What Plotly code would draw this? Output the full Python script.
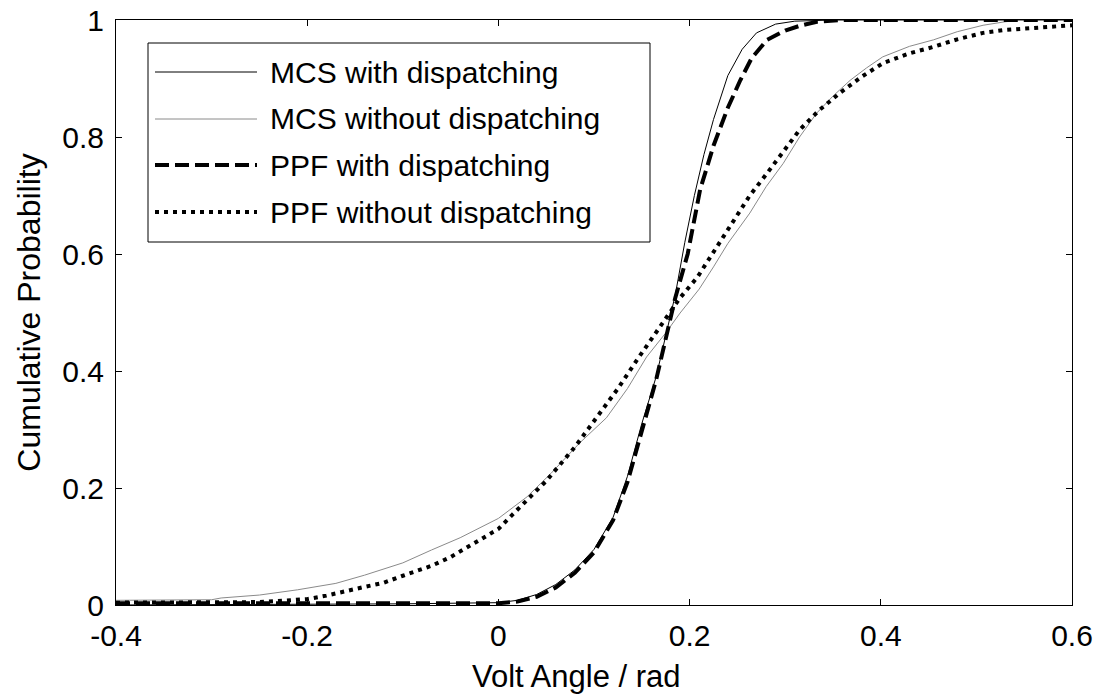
import plotly.graph_objects as go

# ---- data ----
mcs_disp_x = [-0.4, -0.1, 0.0, 0.02, 0.04, 0.06, 0.08, 0.10, 0.12, 0.135, 0.15, 0.165, 0.175,
              0.185, 0.195, 0.205, 0.215, 0.225, 0.24, 0.255, 0.27, 0.29, 0.31, 0.35, 0.6]
mcs_disp_y = [0.0, 0.002, 0.004, 0.008, 0.018, 0.035, 0.06, 0.095, 0.15, 0.22, 0.31, 0.39, 0.46,
              0.53, 0.62, 0.70, 0.77, 0.83, 0.905, 0.95, 0.978, 0.993, 0.998, 1.0, 1.0]

mcs_nodisp_x = [-0.4, -0.3, -0.29, -0.25, -0.21, -0.17, -0.14, -0.1, -0.07, -0.04, 0.0, 0.03,
                0.055, 0.085, 0.113, 0.135, 0.155, 0.175, 0.19, 0.21, 0.225, 0.24, 0.263, 0.28,
                0.298, 0.315, 0.333, 0.35, 0.368, 0.385, 0.402, 0.43, 0.455, 0.48, 0.507, 0.53,
                0.55, 0.6]
mcs_nodisp_y = [0.008, 0.009, 0.012, 0.017, 0.026, 0.037, 0.051, 0.072, 0.094, 0.115, 0.148, 0.185,
                0.225, 0.277, 0.32, 0.37, 0.424, 0.465, 0.499, 0.54, 0.578, 0.618, 0.67, 0.715,
                0.755, 0.80, 0.841, 0.87, 0.897, 0.918, 0.937, 0.955, 0.966, 0.98, 0.991, 0.997,
                1.0, 1.0]

ppf_disp_x = [-0.4, 0.0, 0.02, 0.04, 0.06, 0.08, 0.10, 0.12, 0.135, 0.15, 0.165, 0.175, 0.185,
              0.198, 0.211, 0.225, 0.24, 0.253, 0.265, 0.281, 0.3, 0.315, 0.333, 0.36, 0.6]
ppf_disp_y = [0.003, 0.003, 0.006, 0.014, 0.03, 0.055, 0.09, 0.145, 0.21, 0.30, 0.385, 0.455, 0.525,
              0.60, 0.71, 0.785, 0.85, 0.897, 0.935, 0.966, 0.982, 0.99, 0.997, 1.0, 1.0]

ppf_nodisp_x = [-0.4, -0.25, -0.2, -0.18, -0.14, -0.12, -0.1, -0.07, -0.05, -0.02, 0.0, 0.015,
                0.05, 0.08, 0.103, 0.125, 0.145, 0.176, 0.19, 0.208, 0.225, 0.245, 0.263, 0.281,
                0.3, 0.315, 0.335, 0.357, 0.38, 0.402, 0.43, 0.455, 0.48, 0.507, 0.53, 0.559, 0.6]
ppf_nodisp_y = [0.004, 0.005, 0.01, 0.016, 0.031, 0.038, 0.05, 0.067, 0.082, 0.11, 0.13, 0.155,
                0.212, 0.27, 0.32, 0.37, 0.419, 0.492, 0.525, 0.56, 0.603, 0.655, 0.70, 0.738,
                0.778, 0.812, 0.845, 0.875, 0.903, 0.926, 0.943, 0.954, 0.967, 0.978, 0.983, 0.986,
                0.991]

series_names = ["MCS with dispatching", "MCS without dispatching",
                "PPF with dispatching", "PPF without dispatching"]
x_ticks = [-0.4, -0.2, 0, 0.2, 0.4, 0.6]
x_tick_labels = ["-0.4", "-0.2", "0", "0.2", "0.4", "0.6"]
y_ticks = [0, 0.2, 0.4, 0.6, 0.8, 1]
y_tick_labels = ["0", "0.2", "0.4", "0.6", "0.8", "1"]
x_title = "Volt Angle / rad"
y_title = "Cumulative Probability"

# ---- styles ----
styles = [
    dict(color="black", width=1, dash="solid"),
    dict(color="#8a8a8a", width=1, dash="solid"),
    dict(color="black", width=4, dash="14px,6px"),
    dict(color="black", width=4, dash="4px,5px"),
]
xs = [mcs_disp_x, mcs_nodisp_x, ppf_disp_x, ppf_nodisp_x]
ys = [mcs_disp_y, mcs_nodisp_y, ppf_disp_y, ppf_nodisp_y]

FONT = "Liberation Sans, Arial, sans-serif"

fig = go.Figure()
for name, x, y, st in zip(series_names, xs, ys, styles):
    fig.add_trace(go.Scatter(x=x, y=y, mode="lines", name=name, line=st, showlegend=False))

# ---- custom legend (MATLAB style box) ----
L, R, T, B = 116, 1072, 20, 605
W, H = R - L, B - T
def px(xp):
    return (xp - L) / W
def py(yp):
    return (B - yp) / H

fig.add_shape(type="rect", xref="paper", yref="paper",
              x0=px(148), x1=px(650), y0=py(242), y1=py(43),
              line=dict(color="black", width=1), fillcolor="white", layer="above")
row_y = [72, 119, 165, 212]
for name, st, yy in zip(series_names, styles, row_y):
    fig.add_shape(type="line", xref="paper", yref="paper",
                  x0=px(155), x1=px(257), y0=py(yy), y1=py(yy),
                  line=st, layer="above")
    fig.add_annotation(xref="paper", yref="paper", x=px(268), y=py(yy),
                       text=name, showarrow=False, xanchor="left", yanchor="middle",
                       font=dict(family=FONT, size=30, color="black"))

# x axis title (centred where the reference shows it)
fig.add_annotation(xref="paper", yref="paper", x=px(576), y=py(676),
                   text=x_title, showarrow=False, xanchor="center", yanchor="middle",
                   font=dict(family=FONT, size=31, color="black"))

axis_common = dict(showline=True, linecolor="black", linewidth=1, mirror="ticks",
                   ticks="inside", ticklen=6, tickcolor="black", tickwidth=1,
                   showgrid=False, zeroline=False,
                   tickfont=dict(family=FONT, size=30, color="black"))

fig.update_layout(
    width=1097, height=696,
    margin=dict(l=L, r=1097 - R, t=T, b=696 - B, autoexpand=False),
    paper_bgcolor="white", plot_bgcolor="white",
    showlegend=False,
    xaxis=dict(range=[-0.4, 0.6], tickvals=x_ticks, ticktext=x_tick_labels,
               ticklabelstandoff=4, **axis_common),
    yaxis=dict(range=[0, 1], tickvals=y_ticks, ticktext=y_tick_labels,
               ticklabelstandoff=5,
               title=dict(text=y_title, font=dict(family=FONT, size=32, color="black"),
                          standoff=12),
               **axis_common),
)

fig.write_html("out.html")
